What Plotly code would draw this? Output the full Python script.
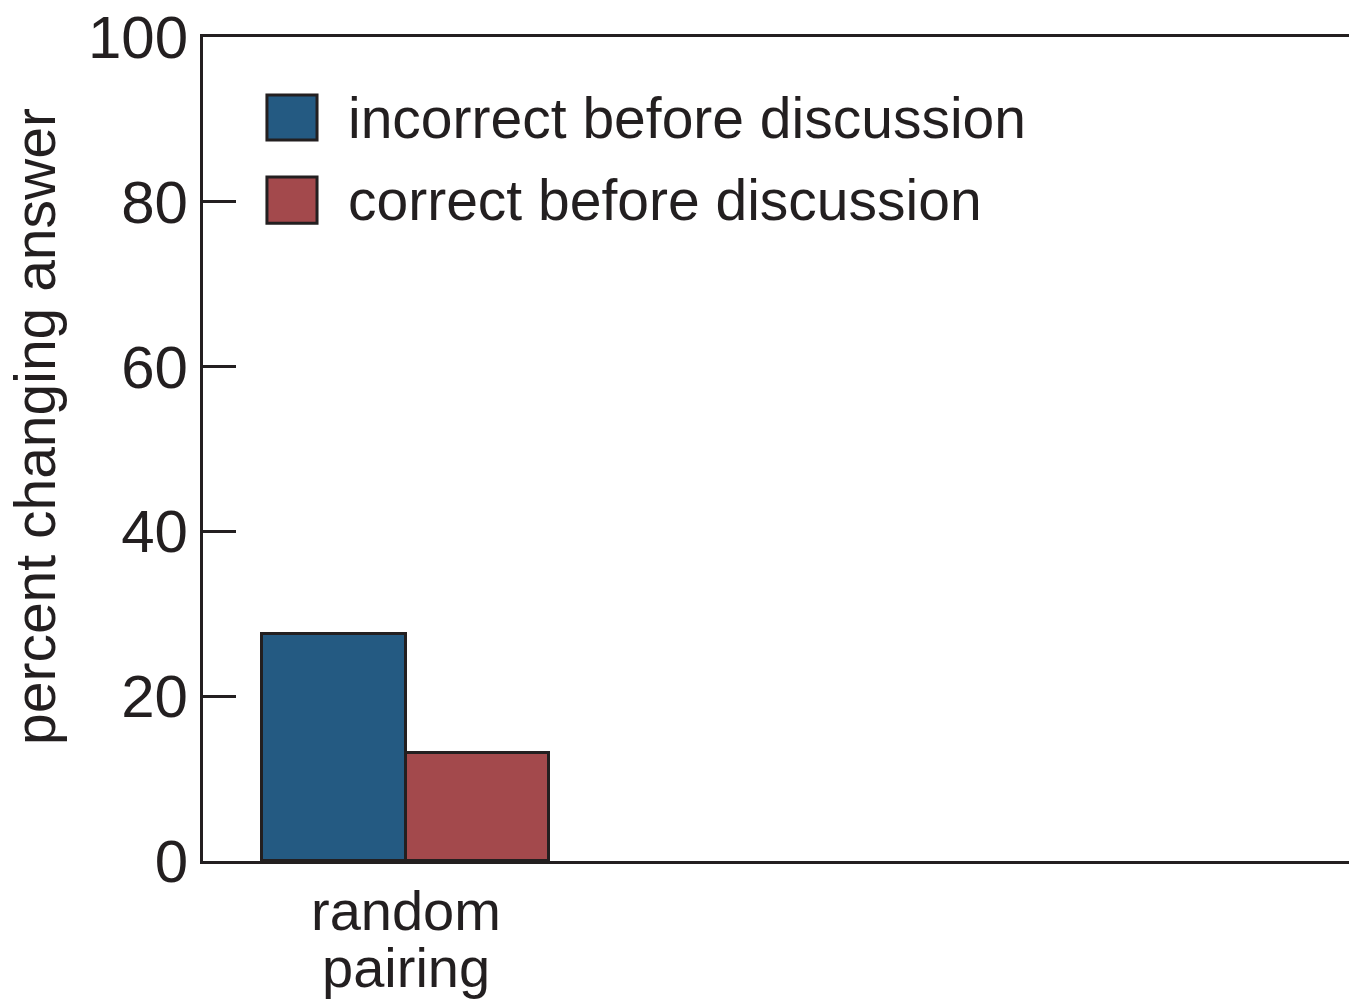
import plotly.graph_objects as go

categories = ["random<br>pairing"]
series_names = ["incorrect before discussion", "correct before discussion"]
incorrect_before = [27.5]
correct_before = [13.1]
y_ticks = [0, 20, 40, 60, 80, 100]
y_title = "percent changing answer"

BLUE = "#245a82"
RED = "#a3494c"
INK = "#231f20"
FONT = "Liberation Sans, Arial, sans-serif"

x_pos = list(range(len(categories)))

fig = go.Figure()
for name, vals, col in [(series_names[0], incorrect_before, BLUE),
                        (series_names[1], correct_before, RED)]:
    fig.add_trace(go.Bar(
        x=x_pos, y=vals, name=name,
        marker=dict(color=col, line=dict(color=INK, width=3)),
        showlegend=False,
    ))

# manual legend (large swatches)
legend_items = [(series_names[0], BLUE, 0.8749, 0.9296),
                (series_names[1], RED, 0.7741, 0.8300)]
for name, col, y0, y1 in legend_items:
    fig.add_shape(type="rect", xref="paper", yref="paper",
                  x0=0.0558, x1=0.0995, y0=y0, y1=y1,
                  fillcolor=col, line=dict(color=INK, width=3))
    fig.add_annotation(xref="paper", yref="paper", x=0.1248, y=(y0 + y1) / 2,
                       text=name, showarrow=False, xanchor="left", yanchor="middle",
                       font=dict(family=FONT, size=57, color=INK))

# category labels (tighter line spacing than tick labels allow)
line_shifts = [-49.5, -106]
for xi, cat in zip(x_pos, categories):
    for line, shift in zip(cat.split("<br>"), line_shifts):
        fig.add_annotation(xref="x", yref="paper", x=xi, y=0, yshift=shift,
                           text=line, showarrow=False, xanchor="center",
                           yanchor="middle",
                           font=dict(family=FONT, size=56, color=INK))

# y-axis title (placed slightly above centre, as in the reference)
fig.add_annotation(xref="paper", yref="paper", x=0, y=0.5, xshift=-168, yshift=22,
                   text=y_title, textangle=-90, showarrow=False,
                   xanchor="center", yanchor="middle",
                   font=dict(family=FONT, size=57, color=INK))

fig.update_layout(
    width=1341, height=992,
    margin=dict(l=195, r=0, t=29, b=139),
    paper_bgcolor="white", plot_bgcolor="white",
    barmode="group", bargap=0, bargroupgap=0,
    font=dict(family=FONT, color=INK, size=57),
    xaxis=dict(
        range=[-0.7056, 3.2875], tickvals=x_pos, showticklabels=False,
        showline=True, linecolor=INK, linewidth=3, mirror=True,
        showgrid=False, zeroline=False, ticks="",
    ),
    yaxis=dict(
        range=[0, 100], tickvals=y_ticks,
        showline=True, linecolor=INK, linewidth=3,
        showgrid=False, zeroline=False,
        ticks="inside", ticklen=33, tickwidth=3, tickcolor=INK,
        ticklabeloverflow="allow",
        tickfont=dict(size=60, family=FONT, color=INK),
        automargin=False,
    ),
)

fig.write_html("out.html")
